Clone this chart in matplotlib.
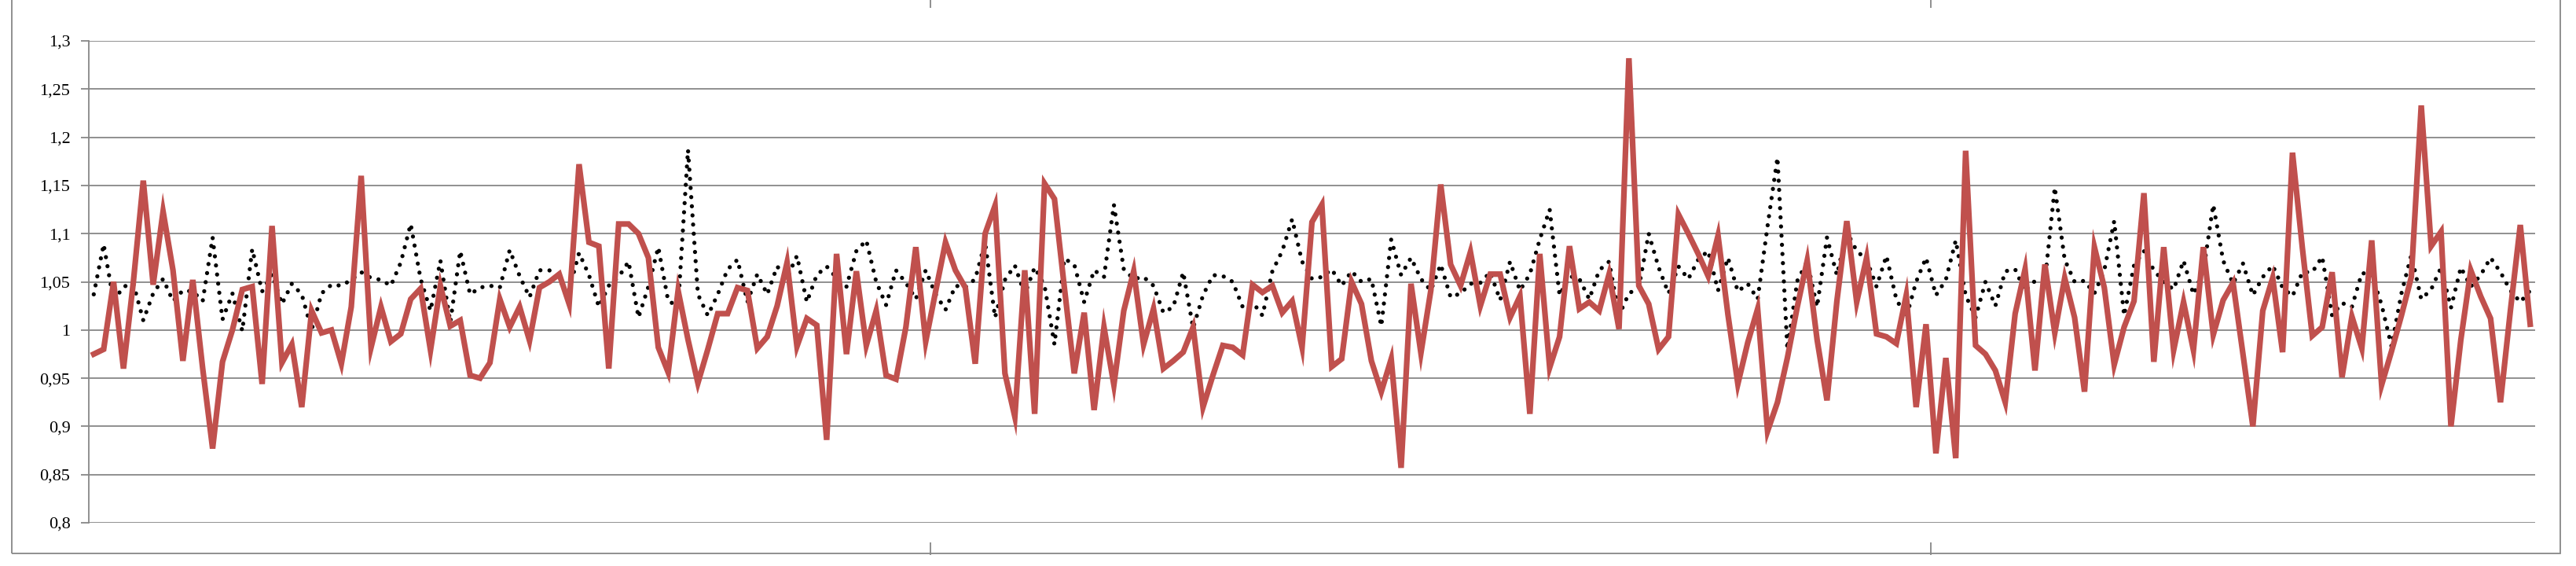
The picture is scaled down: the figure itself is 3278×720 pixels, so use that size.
import matplotlib.pyplot as plt
from matplotlib.patches import Rectangle

# red series (thick line)
red = [0.975, 0.98, 1.05, 0.96, 1.05, 1.155, 1.047, 1.123, 1.062, 0.968,
       1.052, 0.96, 0.877, 0.967, 1.0, 1.042, 1.045, 0.944, 1.108, 0.966,
       0.985, 0.92, 1.02, 0.997, 1.0, 0.965, 1.024, 1.16, 0.982, 1.024,
       0.988, 0.996, 1.032, 1.043, 0.979, 1.046, 1.004, 1.01, 0.953, 0.95,
       0.966, 1.032, 1.003, 1.024, 0.989, 1.044, 1.05, 1.058, 1.027, 1.172,
       1.091, 1.087, 0.96, 1.11, 1.11, 1.10, 1.075, 0.982, 0.956, 1.041,
       0.99, 0.945, 0.98, 1.017, 1.017, 1.044, 1.041, 0.981, 0.993, 1.025,
       1.07, 0.983, 1.012, 1.005, 0.886, 1.079, 0.975, 1.061, 0.984, 1.02,
       0.953, 0.949, 1.003, 1.086, 0.988, 1.04, 1.091, 1.062, 1.044, 0.965,
       1.10, 1.129, 0.955, 0.91, 1.062, 0.913, 1.152, 1.136, 1.044, 0.955,
       1.018, 0.917, 1.003, 0.943, 1.02, 1.061, 0.985, 1.022, 0.96, 0.968,
       0.977, 1.003, 0.92, 0.953, 0.984, 0.982, 0.974, 1.047, 1.039, 1.046,
       1.018, 1.03, 0.982, 1.112, 1.13, 0.962, 0.97, 1.05, 1.027, 0.968,
       0.936, 0.97, 0.857, 1.048, 0.976, 1.041, 1.151, 1.068, 1.046, 1.081,
       1.025, 1.058, 1.058, 1.013, 1.035, 0.913, 1.079, 0.961, 0.993, 1.087,
       1.022, 1.029, 1.02, 1.058, 1.001, 1.282, 1.046, 1.027, 0.98, 0.993,
       1.12, 1.10, 1.079, 1.056, 1.098, 1.016, 0.944, 0.987, 1.022, 0.895,
       0.925, 0.971, 1.024, 1.072, 0.99, 0.927, 1.03, 1.113, 1.029, 1.075,
       0.996, 0.993, 0.986, 1.036, 0.92, 1.006, 0.872, 0.971, 0.867, 1.186,
       0.984, 0.975, 0.958, 0.925, 1.017, 1.063, 0.958, 1.068, 0.997, 1.054,
       1.013, 0.936, 1.086, 1.044, 0.964, 1.003, 1.03, 1.142, 0.967, 1.086,
       0.979, 1.029, 0.979, 1.086, 0.995, 1.031, 1.049, 0.975, 0.9, 1.02,
       1.054, 0.977, 1.184, 1.085, 0.994, 1.003, 1.06, 0.951, 1.014, 0.981,
       1.093, 0.943, 0.978, 1.015, 1.055, 1.233, 1.087, 1.102, 0.90, 0.99,
       1.062, 1.035, 1.012, 0.925, 1.02, 1.109, 1.006]

# black series (round dots)
black = [1.037, 1.089, 1.03, 1.045, 1.048, 1.01, 1.038, 1.053, 1.03, 1.041,
         1.04, 1.03, 1.096, 1.011, 1.038, 0.999, 1.084, 1.04, 1.058, 1.027,
         1.048, 1.037, 1.0, 1.038, 1.047, 1.046, 1.052, 1.06, 1.054, 1.052,
         1.046, 1.07, 1.11, 1.053, 1.02, 1.072, 1.008, 1.082, 1.037, 1.044,
         1.046, 1.044, 1.083, 1.056, 1.034, 1.062, 1.062, 1.05, 1.042, 1.08,
         1.057, 1.024, 1.046, 1.055, 1.071, 1.013, 1.045, 1.086, 1.03, 1.025,
         1.187, 1.037, 1.015, 1.037, 1.063, 1.073, 1.029, 1.058, 1.037, 1.066,
         1.054, 1.077, 1.029, 1.057, 1.066, 1.054, 1.045, 1.082, 1.093, 1.05,
         1.026, 1.062, 1.049, 1.032, 1.062, 1.037, 1.021, 1.046, 1.044, 1.053,
         1.091, 1.013, 1.052, 1.067, 1.037, 1.065, 1.046, 0.985, 1.074, 1.068,
         1.029, 1.062, 1.055, 1.13, 1.063, 1.053, 1.055, 1.046, 1.018, 1.024,
         1.06, 1.002, 1.036, 1.057, 1.056, 1.05, 1.024, 1.029, 1.015, 1.061,
         1.082, 1.115, 1.071, 1.053, 1.055, 1.063, 1.046, 1.061, 1.05, 1.053,
         1.004, 1.094, 1.057, 1.075, 1.053, 1.041, 1.068, 1.034, 1.038, 1.048,
         1.049, 1.06, 1.031, 1.071, 1.041, 1.058, 1.094, 1.125, 1.036, 1.056,
         1.053, 1.032, 1.062, 1.071, 1.015, 1.038, 1.044, 1.1, 1.065, 1.038,
         1.066, 1.053, 1.073, 1.082, 1.041, 1.075, 1.04, 1.048, 1.032, 1.108,
         1.179, 0.98, 1.051, 1.071, 1.024, 1.096, 1.057, 1.102, 1.082, 1.073,
         1.045, 1.077, 1.032, 1.013, 1.05, 1.075, 1.036, 1.052, 1.093, 1.036,
         1.013, 1.05, 1.025, 1.061, 1.063, 1.04, 1.051, 1.051, 1.148, 1.073,
         1.05, 1.051, 1.038, 1.062, 1.113, 1.015, 1.067, 1.082, 1.062, 1.05,
         1.042, 1.072, 1.037, 1.061, 1.13, 1.072, 1.048, 1.069, 1.036, 1.055,
         1.067, 1.044, 1.035, 1.06, 1.06, 1.076, 1.015, 1.028, 1.024, 1.059,
         1.058, 1.026, 0.983, 1.038, 1.078, 1.032, 1.042, 1.065, 1.023, 1.065,
         1.045, 1.057, 1.075, 1.06, 1.041, 1.029, 1.041]

y_ticks = [0.8, 0.85, 0.9, 0.95, 1.0, 1.05, 1.1, 1.15, 1.2, 1.25, 1.3]
y_labels = ['0,8', '0,85', '0,9', '0,95', '1', '1,05', '1,1', '1,15', '1,2', '1,25', '1,3']
x_marks = [84.5, 185.5]  # category-axis tick marks

x = list(range(len(red)))

fig = plt.figure(figsize=(32.78, 7.2), dpi=100)
ax = fig.add_axes([113 / 3278, 55 / 720, (3226 - 113) / 3278, 613 / 720])

grid_c = '#878787'
ax.plot(x, black, color='black', lw=3.8, linestyle=(0, (0.01, 2.2)),
        dash_capstyle='round', zorder=3)
ax.plot(x, red, color='#C0504D', lw=5.2, solid_joinstyle='miter', zorder=4)

ax.set_xlim(-0.5, len(red) - 0.5)
ax.set_ylim(0.8, 1.3)
ax.set_yticks(y_ticks)
ax.set_yticklabels(y_labels, fontsize=16, family='Liberation Serif')
ax.set_xticks([])
ax.yaxis.grid(True, color=grid_c, lw=1.3)
ax.set_axisbelow(True)
ax.tick_params(axis='y', length=7, width=1.3, color=grid_c, pad=10)
for s in ['top', 'right', 'bottom']:
    ax.spines[s].set_visible(False)
ax.spines['left'].set_color(grid_c)
ax.spines['left'].set_linewidth(1.3)

# tick marks above and below the plot
trans = ax.get_xaxis_transform()
ax.vlines(x_marks, 1.068, 1.09, transform=trans, color=grid_c, lw=1.3, clip_on=False)
ax.vlines(x_marks, -0.067, -0.041, transform=trans, color=grid_c, lw=1.3, clip_on=False)

# outer chart frame (top edge lies outside the picture)
fig.patches.append(Rectangle((15 / 3278, 16 / 720), (3258 - 15) / 3278, 720 / 720,
                             transform=fig.transFigure, fill=False,
                             edgecolor=grid_c, lw=1.3))

fig.savefig('out.png', dpi=100)
